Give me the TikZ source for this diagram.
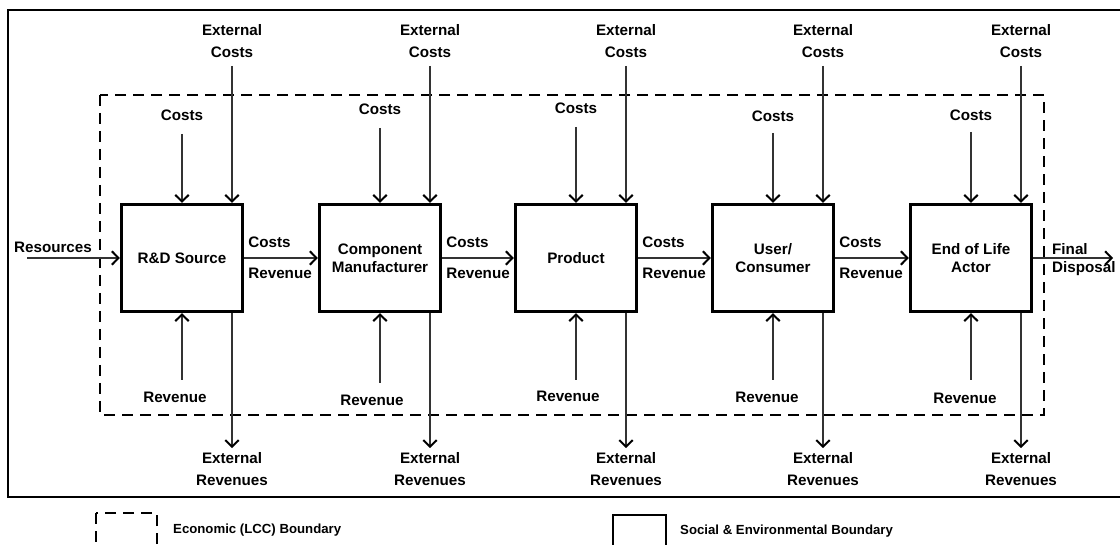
\documentclass[tikz,border=0pt]{standalone}
\usepackage{fontspec}
\setmainfont{Liberation Sans}
\usetikzlibrary{arrows.meta}
\newcommand\lblfont{\fontsize{15.2}{22}\selectfont\bfseries}
\newcommand\boxfont{\fontsize{15.2}{18}\selectfont\bfseries}
\newcommand\legfont{\fontsize{13.2}{15}\selectfont\bfseries}

\begin{document}
\begin{tikzpicture}[x=1pt,y=-1pt,
  lbl/.style={font=\lblfont, inner sep=0pt, align=center},
  stage/.style={draw, line width=2.9pt, minimum width=121.5pt, minimum height=107.5pt,
    font=\boxfont, align=center, inner sep=0pt},
  flow/.style={line width=1.2pt, draw=black!80,
    -{Straight Barb[length=6.5pt,width=13.5pt,line width=2pt,color=black]}},
  econ/.style={line width=2.9pt, dash pattern=on 11pt off 7pt},
  frame/.style={line width=2.9pt}]
\useasboundingbox (0,0) rectangle (1120,545);

% social & environmental boundary (outer frame) and economic boundary
\draw[frame] (8,10) rectangle (1135,497);
\draw[econ] (100,95) rectangle (1044,415);

% life-cycle stages
\foreach \n/\x/\t in {rd/182/{R\&D Source}, comp/380/{Component\\Manufacturer},
    prod/576/{Product}, user/773/{User/\\Consumer}, eol/971/{End of Life\\Actor}}
  \node[stage] (\n) at (\x,258) {\t};

% costs and revenues entering / leaving each stage
\foreach \n/\x/\cl/\cs/\rl/\rs/\rx in {rd/182/115/134/397/380/175,
    comp/380/109/128/400/383/372, prod/576/108/127/396/380/568,
    user/773/116/133/397/380/767, eol/971/115/132/398/380/965}
{
  \node[lbl] (\n-cost) at (\x,\cl) {Costs};
  \coordinate (\n-cin) at (\x,\cs);
  \draw[flow] (\n-cin) -- (\n-cin |- \n.north);
  \node[lbl] (\n-xcost) at (\x+50,41) {External\\Costs};
  \coordinate (\n-xin) at (\x+50,66);
  \draw[flow] (\n-xin) -- (\n-xin |- \n.north);
  \node[lbl] (\n-rev) at (\rx,\rl) {Revenue};
  \coordinate (\n-rin) at (\x,\rs);
  \draw[flow] (\n-rin) -- (\n-rin |- \n.south);
  \node[lbl] (\n-xrev) at (\x+50,469.5) {External\\Revenues};
  \coordinate (\n-xout) at (\x+50,448);
  \draw[flow] (\n-xout |- \n.south) -- (\n-xout);
}

% flows between consecutive stages
\foreach \a/\b in {rd/comp, comp/prod, prod/user, user/eol}
{
  \draw[flow] (\a.east) -- (\b.west);
  \path (\a.east) ++(4,-15.5) node[lbl, anchor=west] (\a-oc) {Costs};
  \path (\a.east) ++(4,15) node[lbl, anchor=west] (\a-or) {Revenue};
}

% system inputs and outputs
\node[lbl] (res) at (53,247.5) {Resources};
\coordinate (resin) at (27,258);
\draw[flow] (resin) -- (rd.west);
\coordinate (fdout) at (1113,258);
\draw[flow] (eol.east) -- (fdout);
\node[lbl, font=\boxfont, align=left, anchor=west] (fd) at (1052,259.7) {Final\\Disposal};

% legend
\draw[econ, line width=2.6pt] (96,513) rectangle (157,570);
\node[font=\legfont, inner sep=0pt, anchor=west] (legecon) at (173,530) {Economic (LCC) Boundary};
\draw[line width=2.6pt] (613,515) rectangle (666,570);
\node[font=\legfont, inner sep=0pt, anchor=west] (legsoc) at (680,531) {Social \& Environmental Boundary};
\end{tikzpicture}
\end{document}
